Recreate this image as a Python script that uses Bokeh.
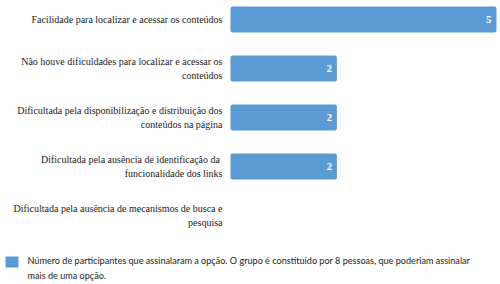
from bokeh.plotting import figure
from bokeh.models import Range1d
from bokeh.core.properties import value
from bokeh.embed import file_html
from bokeh.resources import INLINE

categories = [
    "Facilidade para localizar e acessar os conteúdos",
    "Não houve dificuldades para localizar e acessar os\nconteúdos",
    "Dificultada pela disponibilização e distribuição dos\nconteúdos na página",
    "Dificultada pela ausência  de identificação da\nfuncionalidade dos links",
    "Dificultada pela ausência de mecanismos de busca e\npesquisa",
]
counts = [5, 2, 2, 2, 0]
legend_label = ("Número de participantes que assinalaram a opção. O grupo é constituído por 8 pessoas, que poderiam assinalar\n"
                "mais de uma opção.")

BAR = "#5B9BD5"

# pixel -> data helpers (layout only); categories run downward, so y = -index
X0, X1, Y0, Y1 = -4.323, 5.075, -0.388, 5.408
def xpx(px):
    return X0 + px * (X1 - X0) / 500.0
def ypx(py):
    return -(Y0 + py * (Y1 - Y0) / 284.0)

pos = [-i for i in range(len(categories))]

p = figure(width=500, height=284, output_backend="svg", toolbar_location=None,
           x_range=Range1d(X0, X1), y_range=Range1d(-Y1, -Y0),
           min_border=0, min_border_left=0, min_border_right=0, min_border_top=0, min_border_bottom=0)
p.axis.visible = False
p.grid.visible = False
p.outline_line_color = None
p.background_fill_color = "white"

p.hbar(y=pos, left=0, right=counts, height=0.53, fill_color=BAR,
       line_color=None, border_radius=2)

for yy, cat, v in zip(pos, categories, counts):
    p.text(x=[xpx(222)], y=[yy], text=[cat], text_color="#222222", text_align="right",
           text_baseline="middle", text_font=value("Times New Roman"), text_font_size="10px",
           text_line_height=1.2)
    if v > 0:
        p.text(x=[v], y=[yy], text=[str(v)], text_color="white", text_align="right",
               text_baseline="middle", x_offset=-5, text_font=value("Times New Roman"),
               text_font_size="11px", text_font_style="bold")

# legend (drawn manually)
p.rect(x=[xpx(11.5)], y=[ypx(261.5)], width=13, height=11, width_units="screen",
       height_units="screen", fill_color=BAR, line_color=None)
p.text(x=[xpx(27)], y=[ypx(254)], text=[legend_label], text_font=value("Lato"),
       text_font_size="9.1px", text_color="#222222", text_baseline="top",
       text_line_height=1.4)

open("out.html", "w").write(file_html(p, INLINE))
